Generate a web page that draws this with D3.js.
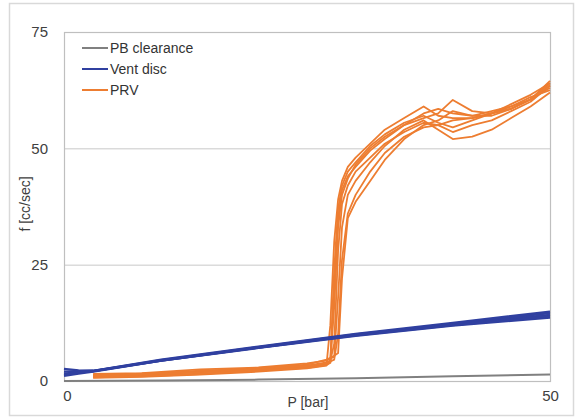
<!DOCTYPE html>
<html>
<head>
<meta charset="utf-8">
<script src="https://cdn.jsdelivr.net/npm/d3@7"></script>
<style>
  body { margin: 0; background: #fff; }
  svg { font-family: "Liberation Sans", Arial, sans-serif; }
</style>
</head>
<body>
<svg></svg>
<script>
// Data
const seriesNames = ["PB clearance", "Vent disc", "PRV"];
const xTicks = [0, 50];
const yTicks = [0, 25, 50, 75];

// PB clearance
const pbP = [0, 10, 20, 30, 40, 50];
const pbF = [0, 0.1, 0.3, 0.6, 1.0, 1.4];

// Vent disc runs, shared pressure grid
const ventP = [0, 1.5, 3, 10, 20, 30, 40, 50];
const ventRuns = [
  [2.6, 2.3, 2.2, 4.6, 7.4, 10.1, 12.5, 14.9],
  [1.1, 1.6, 2.0, 4.4, 7.2, 9.9, 12.3, 14.6],
  [1.6, 1.9, 2.1, 4.4, 7.1, 9.7, 11.9, 13.6],
  [2.0, 2.1, 2.2, 4.5, 7.3, 10.0, 12.2, 14.2],
  [1.3, 1.8, 2.1, 4.4, 7.2, 9.8, 12.0, 13.9]
];

// PRV runs, shared pressure grid
const prvP = [3, 8, 14, 20, 25, 27, 27.4, 27.8, 28.2, 28.6, 29.2, 30, 31.5, 33, 35, 37, 38.5, 40, 42, 44, 46, 48, 50];
const prvRuns = [
  [1.0, 1.2, 1.9, 2.3, 3.0, 3.6, 4.0, 20, 35, 41, 44, 46, 49.5, 52, 55, 57.5, 58.5, 57.5, 57, 58, 59, 60.5, 63],
  [0.7, 0.9, 1.4, 2.0, 2.7, 3.3, 12, 30, 39, 43, 46, 48, 51, 54, 56.5, 59, 57, 56.5, 56.5, 57.5, 58.5, 60.5, 64.5],
  [1.5, 1.7, 2.5, 2.9, 3.8, 4.4, 4.8, 5.2, 18, 33, 40, 43, 47, 50.5, 54, 56, 54, 52, 52.5, 54, 56.5, 59, 62],
  [1.2, 1.6, 2.0, 2.8, 3.3, 4.0, 4.4, 8, 28, 38, 42, 45, 48, 51, 53.5, 55.5, 55, 53.5, 55, 56, 58, 60, 63.5],
  [0.9, 1.1, 1.6, 2.2, 3.1, 3.8, 4.2, 4.6, 10, 26, 36, 40, 45, 49, 52.5, 54.5, 55, 56, 56.5, 57.5, 59, 61, 62.5],
  [1.3, 1.5, 2.2, 2.7, 3.5, 4.6, 5.0, 5.4, 6, 22, 35, 38.5, 43, 47.5, 52, 55, 56, 58, 57, 57, 58.5, 60.5, 63.5],
  [1.1, 1.4, 1.9, 2.5, 3.2, 3.8, 4.3, 24, 37, 42, 45, 47, 50.5, 53, 55.5, 57, 55.5, 54.5, 56, 57.5, 59.5, 61.5, 64],
  [0.8, 1.0, 1.5, 2.3, 2.8, 3.4, 3.9, 16, 33, 40, 43.5, 46.5, 50, 52.5, 55, 56.5, 57.5, 60.4, 58, 57.5, 58.5, 60.5, 64]
];

const colors = { pb: "#808080", vent: "#3040a0", prv: "#ed7d31" };

// Dimensions
const width = 577;
const height = 418;
const plot = { left: 64, right: 550, top: 32, bottom: 381 };

const svg = d3.select("svg")
  .attr("width", width)
  .attr("height", height);

// outer frame
svg.append("rect")
  .attr("x", 9.5).attr("y", 3.5)
  .attr("width", 564).attr("height", 412)
  .attr("fill", "none")
  .attr("stroke", "#d9d9d9")
  .attr("stroke-width", 1.5);

// Scales
const x = d3.scaleLinear().domain([0, 50]).range([plot.left, plot.right]);
const y = d3.scaleLinear().domain([0, 75]).range([plot.bottom, plot.top]);

// gridlines
svg.append("g")
  .selectAll("line")
  .data(yTicks.filter(d => d > 0 && d < 75))
  .join("line")
  .attr("x1", plot.left).attr("x2", plot.right)
  .attr("y1", d => y(d) + 0.5).attr("y2", d => y(d) + 0.5)
  .attr("stroke", "#c8c8c8")
  .attr("stroke-width", 1);

// plot box
svg.append("rect")
  .attr("x", plot.left + 0.5).attr("y", plot.top + 0.5)
  .attr("width", plot.right - plot.left).attr("height", plot.bottom - plot.top)
  .attr("fill", "none")
  .attr("stroke", "#bfbfbf")
  .attr("stroke-width", 1.2);

// Axes (labels only, lines drawn by the box)
const yAxis = svg.append("g")
  .attr("transform", `translate(${plot.left},0)`)
  .call(d3.axisLeft(y).tickValues(yTicks).tickSize(0).tickPadding(16));
const xAxis = svg.append("g")
  .attr("transform", `translate(0,${plot.bottom})`)
  .call(d3.axisBottom(x).tickValues(xTicks).tickSize(0).tickPadding(9));
[yAxis, xAxis].forEach(a => {
  a.select(".domain").remove();
  a.selectAll("text")
    .attr("font-family", "Liberation Sans, Arial, sans-serif")
    .attr("font-size", 15)
    .attr("fill", "#404040");
});
xAxis.selectAll(".tick text").attr("dx", (d, i) => i === 0 ? 3 : 0);

// Axis titles
svg.append("text")
  .attr("x", 308).attr("y", 407)
  .attr("text-anchor", "middle")
  .attr("font-size", 14)
  .attr("fill", "#404040")
  .text("P [bar]");

svg.append("text")
  .attr("transform", "translate(30,204) rotate(-90)")
  .attr("text-anchor", "middle")
  .attr("font-size", 14)
  .attr("fill", "#404040")
  .text("f [cc/sec]");

// Lines
const line = d3.line().x(d => x(d[0])).y(d => y(d[1]));

svg.append("g")
  .selectAll("path")
  .data(prvRuns)
  .join("path")
  .attr("d", run => line(run.map((v, i) => [prvP[i], v])))
  .attr("fill", "none")
  .attr("stroke", colors.prv)
  .attr("stroke-width", 1.8)
  .attr("stroke-linejoin", "round");

svg.append("g")
  .selectAll("path")
  .data(ventRuns)
  .join("path")
  .attr("d", run => line(run.map((v, i) => [ventP[i], v])))
  .attr("fill", "none")
  .attr("stroke", colors.vent)
  .attr("stroke-width", 2.3)
  .attr("stroke-linejoin", "round");

svg.append("path")
  .attr("d", line(pbP.map((p, i) => [p, pbF[i]])))
  .attr("fill", "none")
  .attr("stroke", colors.pb)
  .attr("stroke-width", 2);

// Legend
const legendColors = [colors.pb, colors.vent, colors.prv];
const legend = svg.append("g")
  .selectAll("g")
  .data(seriesNames)
  .join("g")
  .attr("transform", (d, i) => `translate(82,${48 + i * 21})`);
legend.append("line")
  .attr("x1", 0).attr("x2", 26)
  .attr("stroke", (d, i) => legendColors[i])
  .attr("stroke-width", 2);
legend.append("text")
  .attr("x", 28).attr("dy", "0.35em")
  .attr("font-size", 14)
  .attr("fill", "#333")
  .text(d => d);
</script>
</body>
</html>
